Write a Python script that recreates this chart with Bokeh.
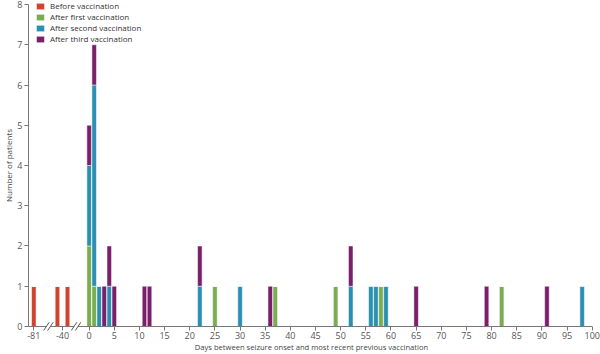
from bokeh.plotting import figure
from bokeh.models import ColumnDataSource, FixedTicker, Range1d
from bokeh.embed import file_html
from bokeh.resources import INLINE

# ---- data (days between seizure onset and most recent previous vaccination) ----
days = [-81, -41, -39, 0, 1, 2, 3, 4, 5, 11, 12, 22, 25, 30, 36, 37, 49, 52,
        56, 57, 58, 59, 65, 79, 82, 91, 98]
before = [1, 1, 1, 0, 0, 0, 0, 0, 0, 0, 0, 0, 0, 0, 0, 0, 0, 0,
          0, 0, 0, 0, 0, 0, 0, 0, 0]
first = [0, 0, 0, 2, 1, 0, 0, 0, 0, 0, 0, 0, 1, 0, 0, 1, 1, 0,
         0, 0, 1, 0, 0, 0, 1, 0, 0]
second = [0, 0, 0, 2, 5, 1, 0, 1, 0, 0, 0, 1, 0, 1, 0, 0, 0, 1,
          1, 1, 0, 1, 0, 0, 0, 0, 1]
third = [0, 0, 0, 1, 1, 0, 1, 1, 1, 1, 1, 1, 0, 0, 1, 0, 0, 1,
         0, 0, 0, 0, 1, 1, 0, 1, 0]

series_keys = ["before", "first", "second", "third"]
series_labels = ["Before vaccination", "After first vaccination",
                 "After second vaccination", "After third vaccination"]
series_colors = ["#d2432f", "#7aac52", "#2a8fb0", "#7a1f6b"]

tick_days = [-81, -40, 0, 5, 10, 15, 20, 25, 30, 35, 40, 45, 50, 55, 60, 65,
             70, 75, 80, 85, 90, 95, 100]
y_ticks = [0, 1, 2, 3, 4, 5, 6, 7, 8]


# broken x axis: compress the negative part
def axis_pos(d):
    if d <= -60:
        return d + 70.0
    if d <= -20:
        return d + 34.7
    return float(d)


src = ColumnDataSource(dict(
    pos=[axis_pos(d) for d in days],
    before=before, first=first, second=second, third=third,
))

FONT = "Open Sans"
AX = "#777777"

X0, X1 = -12.85, 101.25          # frame range (axis lines drawn inside)
Y0, Y1 = -0.0994, 8.0994
AXIS_X = -12.05                  # where the y axis line sits

p = figure(width=600, height=354, output_backend="svg", toolbar_location=None,
           x_range=Range1d(X0, X1), y_range=Range1d(Y0, Y1),
           min_border_left=23, min_border_right=2, min_border_top=0,
           min_border_bottom=24)

p.vbar_stack(series_keys, x="pos", width=0.9, color=series_colors,
             line_color="white", line_width=0.5, source=src,
             legend_label=series_labels)

p.grid.visible = False
p.outline_line_color = None
p.background_fill_color = "white"

tick_pos = [axis_pos(d) for d in tick_days]
p.xaxis.ticker = FixedTicker(ticks=tick_pos)
p.xaxis.major_label_overrides = {tp: str(d) for tp, d in zip(tick_pos, tick_days)}
p.yaxis.ticker = FixedTicker(ticks=y_ticks)

for ax in (p.xaxis[0], p.yaxis[0]):
    ax.axis_line_color = None
    ax.major_tick_line_color = AX
    ax.minor_tick_line_color = None
    ax.major_tick_in = 4
    ax.major_tick_out = 0
    ax.major_label_text_font = FONT
    ax.major_label_text_font_size = "9px"
    ax.major_label_text_color = "#555555"
    ax.axis_label_text_font = FONT
    ax.axis_label_text_font_style = "normal"
    ax.axis_label_text_color = "#444444"

p.xaxis.major_label_standoff = 1
p.xaxis.axis_label_standoff = 0
p.xaxis.axis_label_text_font_size = "7.6px"
p.yaxis.major_label_standoff = 2
p.yaxis.axis_label_standoff = 0
p.yaxis.axis_label_text_font_size = "8px"

p.xaxis.axis_label = "Days between seizure onset and most recent previous vaccination"
p.yaxis.axis_label = "Number of patients"

# y axis line
p.segment(x0=[AXIS_X], y0=[y_ticks[0]], x1=[AXIS_X], y1=[y_ticks[-1]],
          line_color=AX, line_width=1)

# x axis line, broken at the two axis-break marks
breaks = [(tick_pos[0] + tick_pos[1]) / 2, (tick_pos[1] + tick_pos[2]) / 2]
xs0 = [AXIS_X] + [c + 0.44 for c in breaks]
xs1 = [c - 0.36 for c in breaks] + [tick_pos[-1]]
p.segment(x0=xs0, y0=[0] * 3, x1=xs1, y1=[0] * 3, line_color=AX, line_width=1)

# "//" break marks
bx0, by0, bx1, by1 = [], [], [], []
for c in breaks:
    for k in (0, 1):
        bx0.append(c - 1.0 + 0.8 * k)
        bx1.append(c + 0.2 + 0.8 * k)
        by0.append(-0.12)
        by1.append(0.105)
p.segment(x0=bx0, y0=by0, x1=bx1, y1=by1, line_color="#555555", line_width=1)

lg = p.legend[0]
lg.location = (11, 286)
lg.margin = 0
lg.padding = 0
lg.spacing = 0
lg.label_height = 11
lg.glyph_height = 8
lg.glyph_width = 10
lg.label_standoff = 5
lg.label_text_font = FONT
lg.label_text_font_size = "8px"
lg.label_text_color = "#333333"
lg.background_fill_alpha = 0
lg.border_line_color = None

open("out.html", "w").write(file_html(p, INLINE))
